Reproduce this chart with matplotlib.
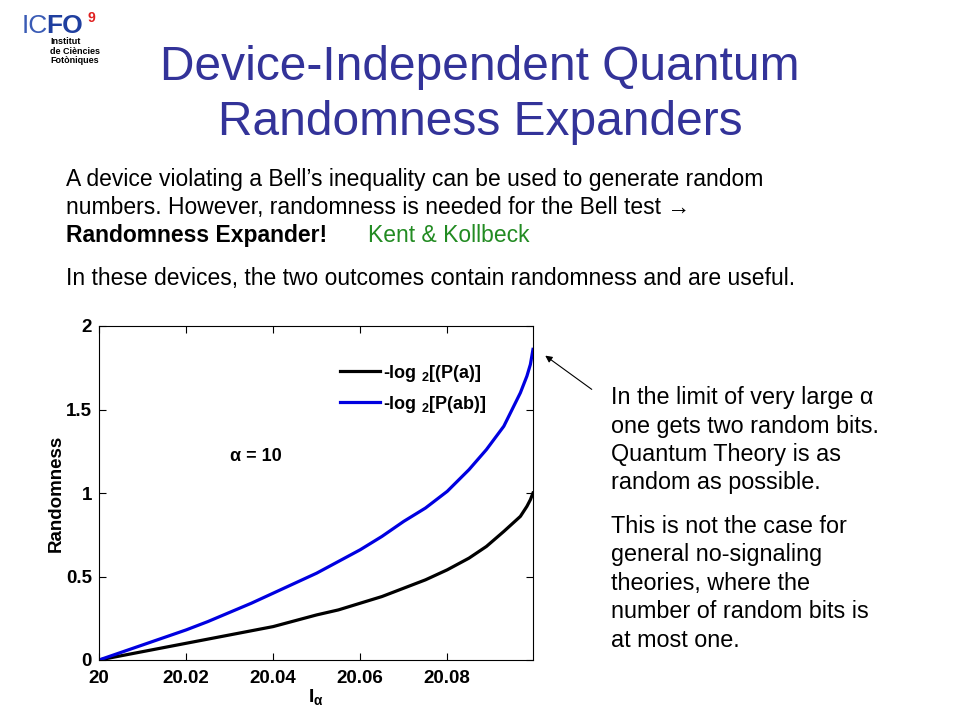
import matplotlib
matplotlib.use("Agg")
import matplotlib.pyplot as plt

plt.rcParams['font.family'] = ['Liberation Sans', 'DejaVu Sans']
plt.rcParams['mathtext.fontset'] = 'custom'
plt.rcParams['mathtext.rm'] = 'Liberation Sans:bold'
plt.rcParams['mathtext.bf'] = 'Liberation Sans:bold'
plt.rcParams['mathtext.it'] = 'Liberation Sans:bold'

# data (alpha = 10)
i_alpha = [20.000, 20.005, 20.010, 20.015, 20.020, 20.025, 20.030, 20.035,
           20.040, 20.045, 20.050, 20.055, 20.060, 20.065, 20.070, 20.075,
           20.080, 20.085, 20.089, 20.093, 20.0968, 20.0983, 20.0991, 20.0997]
rand_a = [0.00, 0.025, 0.05, 0.075, 0.10, 0.125, 0.15, 0.175,
          0.20, 0.235, 0.27, 0.30, 0.34, 0.38, 0.43, 0.48,
          0.54, 0.61, 0.68, 0.77, 0.86, 0.92, 0.96, 1.00]
rand_ab = [0.00, 0.045, 0.09, 0.135, 0.18, 0.23, 0.285, 0.34,
           0.40, 0.46, 0.52, 0.59, 0.66, 0.74, 0.83, 0.91,
           1.01, 1.14, 1.26, 1.40, 1.60, 1.70, 1.77, 1.86]

xticks = [20, 20.02, 20.04, 20.06, 20.08]
xtick_labels = ['20', '20.02', '20.04', '20.06', '20.08']
yticks = [0, 0.5, 1, 1.5, 2]
ytick_labels = ['0', '0.5', '1', '1.5', '2']

W, H = 960, 720
fig = plt.figure(figsize=(9.6, 7.2), dpi=100)


def px(x, y):
    return x / W, 1 - y / H


# logo
fig.text(*px(22, 33), 'IC', fontsize=19, color='#3a5bb5', va='baseline')
fig.text(*px(46, 33), 'FO', fontsize=19, color='#1f3f9f', fontweight='bold', va='baseline')
fig.text(*px(88, 22), '9', fontsize=10, color='#e02020', fontweight='bold', va='baseline')
for i, s in enumerate(['Institut', 'de Ciències', 'Fotòniques']):
    fig.text(*px(50, 44 + i * 9.5), s, fontsize=6.5, fontweight='bold', va='baseline')

# title
title_col = '#333399'
fig.text(*px(480, 80), 'Device-Independent Quantum', fontsize=34.5, color=title_col,
         ha='center', va='baseline')
fig.text(*px(480, 135), 'Randomness Expanders', fontsize=34.5, color=title_col,
         ha='center', va='baseline')

# body text
fig.text(*px(66, 186), 'A device violating a Bell’s inequality can be used to generate random',
         fontsize=16.5, va='baseline')
fig.text(*px(66, 214), 'numbers. However, randomness is needed for the Bell test →',
         fontsize=16.5, va='baseline')
fig.text(*px(66, 242), 'Randomness Expander!', fontsize=16.5, fontweight='bold', va='baseline')
fig.text(*px(368, 242), 'Kent & Kollbeck', fontsize=16.5, color='#228b22', va='baseline')
fig.text(*px(66, 285), 'In these devices, the two outcomes contain randomness and are useful.',
         fontsize=16.5, va='baseline')

right_lines = ['In the limit of very large α', 'one gets two random bits.',
               'Quantum Theory is as', 'random as possible.']
for i, s in enumerate(right_lines):
    fig.text(*px(611, 404 + i * 28.5), s, fontsize=16.8, va='baseline')
right_lines2 = ['This is not the case for', 'general no-signaling',
                'theories, where the', 'number of random bits is', 'at most one.']
for i, s in enumerate(right_lines2):
    fig.text(*px(611, 533 + i * 28.4), s, fontsize=16.8, va='baseline')

# plot
ax = fig.add_axes([99 / W, 1 - 660 / H, 434 / W, 334 / H])
ax.plot(i_alpha, rand_a, color='black', lw=2.3, label=r'-log $_\mathbf{2}$[(P(a)]')
ax.plot(i_alpha, rand_ab, color='#0000e0', lw=2.3, label=r'-log $_\mathbf{2}$[P(ab)]')
ax.set_xlim(20, 20.0997)
ax.set_ylim(0, 2)
ax.set_xticks(xticks)
ax.set_xticklabels(xtick_labels)
ax.set_yticks(yticks)
ax.set_yticklabels(ytick_labels)
ax.tick_params(direction='in', top=True, right=True, length=5, labelsize=13.5)
ax.tick_params(axis='x', pad=7)
ax.tick_params(axis='y', pad=5)
for lab in ax.get_xticklabels() + ax.get_yticklabels():
    lab.set_fontweight('bold')
ax.set_xlabel(r'I$_\mathbf{\alpha}$', fontsize=14, fontweight='bold', labelpad=0)
ax.set_ylabel('Randomness', fontsize=13.5, fontweight='bold', labelpad=1)
ax.text(0.302, 0.608, 'α = 10', transform=ax.transAxes, fontsize=13,
        fontweight='bold', va='center')
leg = ax.legend(loc='upper left', bbox_to_anchor=(0.555, 0.89), frameon=False,
                fontsize=13, handlelength=2.2, handletextpad=0.2, borderpad=0,
                borderaxespad=0, labelspacing=0.55)
for txt in leg.get_texts():
    txt.set_fontweight('bold')

# arrow pointing at the end of the blue curve
fig.add_artist(matplotlib.patches.FancyArrowPatch(
    px(594, 391), px(543, 354), transform=fig.transFigure,
    arrowstyle='-|>', mutation_scale=10, lw=0.8, color='black'))

fig.savefig('out.png', dpi=100)
